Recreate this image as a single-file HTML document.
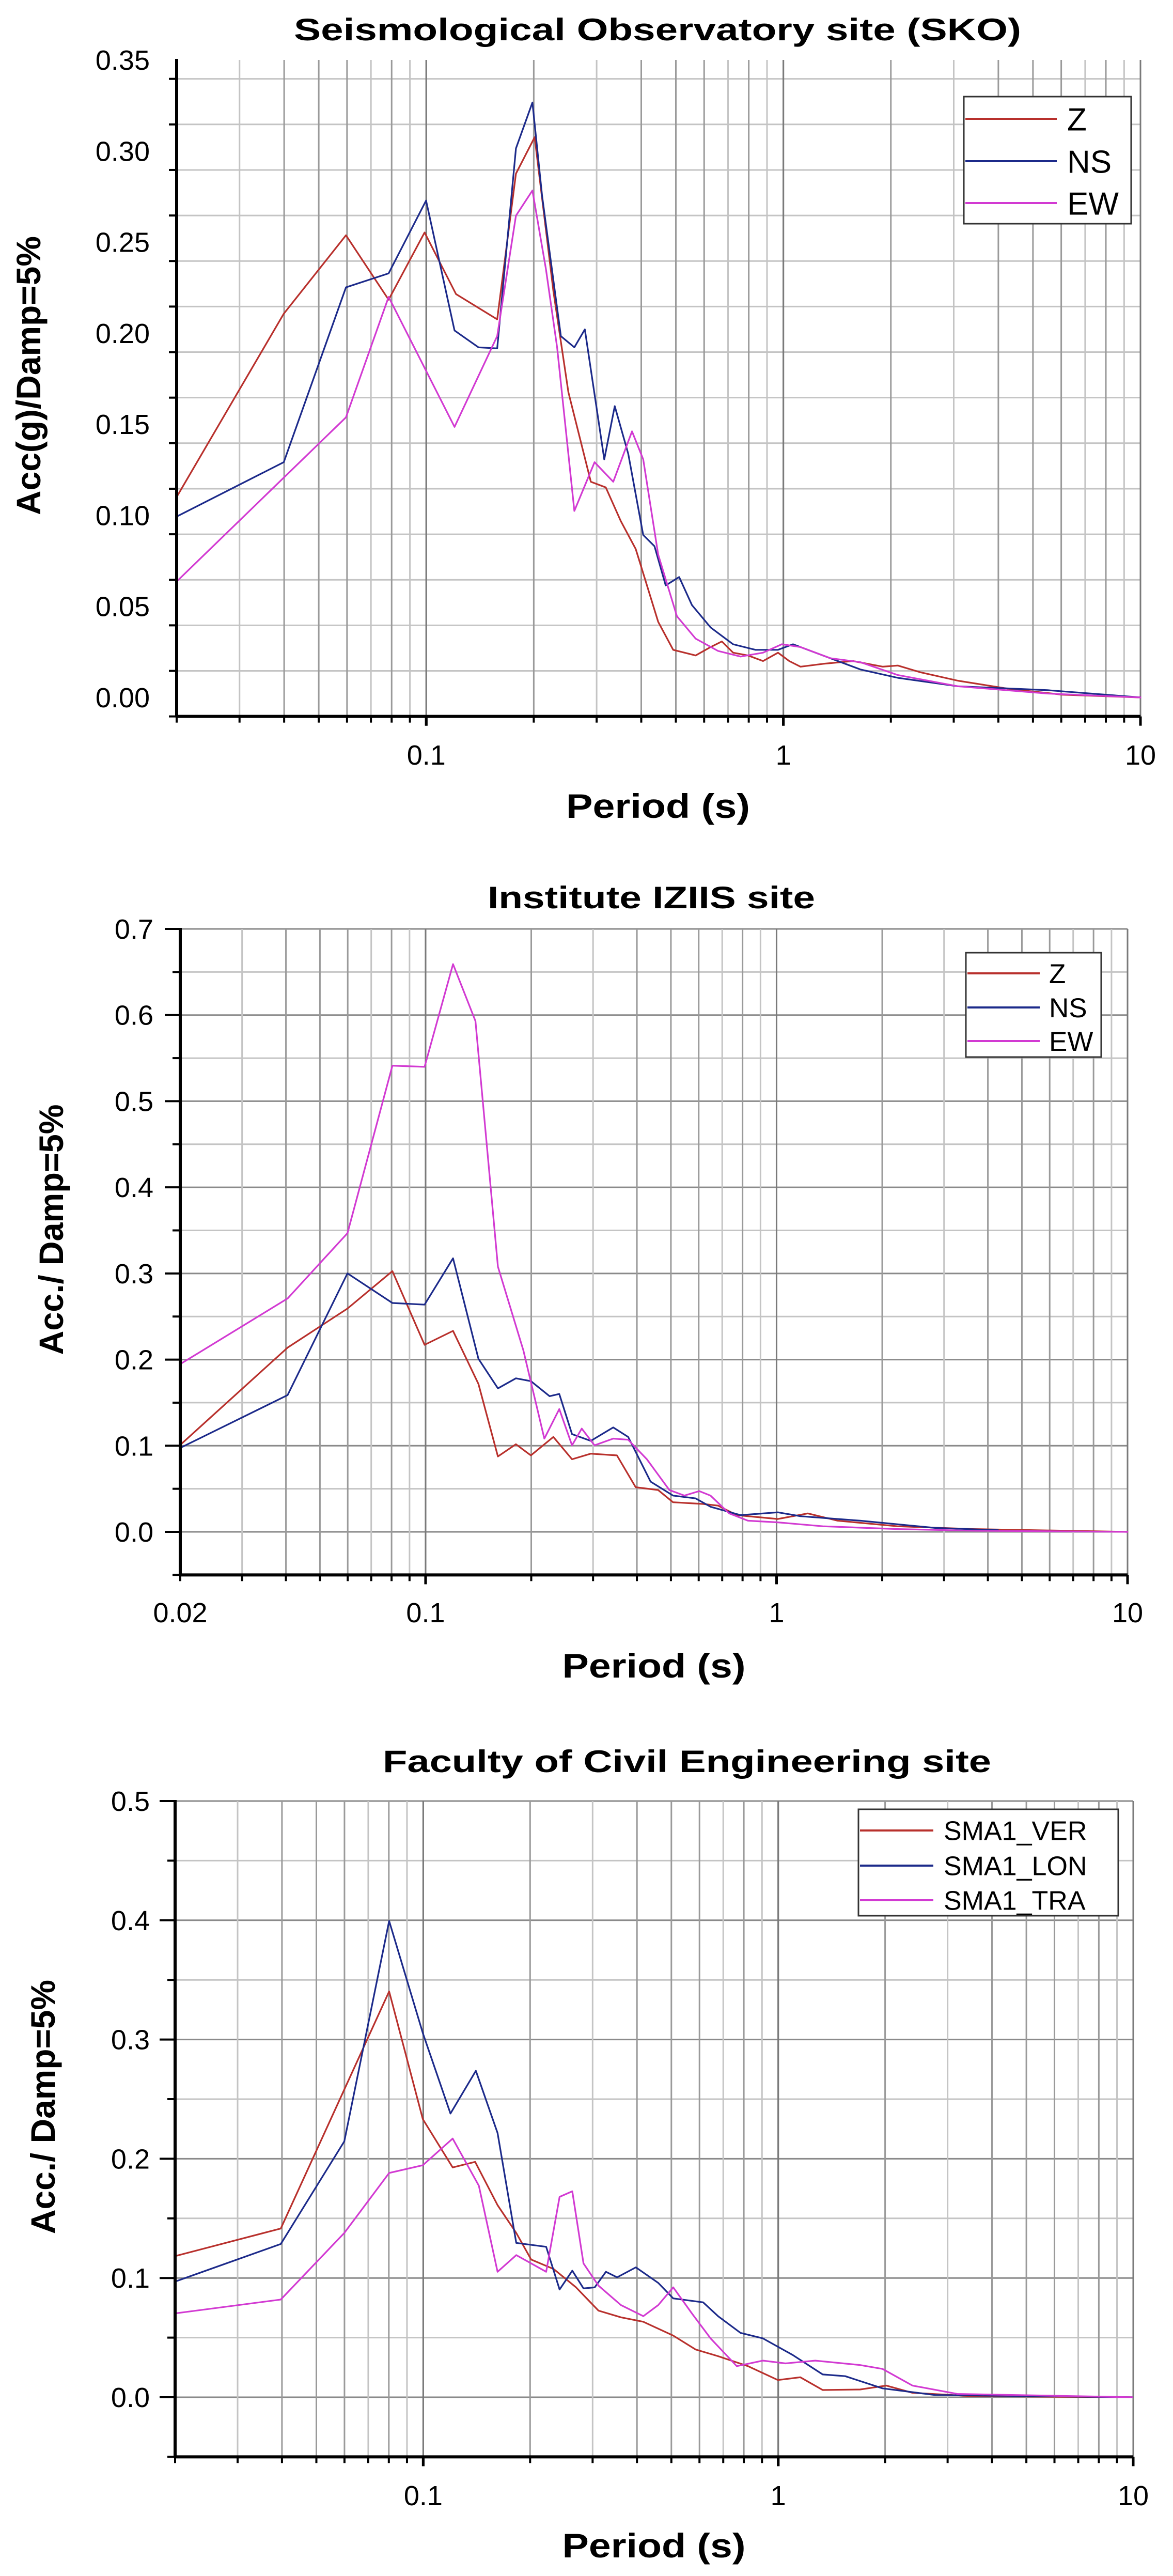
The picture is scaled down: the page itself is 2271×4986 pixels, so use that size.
<!DOCTYPE html>
<html><head><meta charset="utf-8">
<style>
html,body{margin:0;padding:0;background:#fff;}
svg{display:block;}
text{font-family:"Liberation Sans",Arial,sans-serif;}
</style></head>
<body>
<svg id="s" xmlns="http://www.w3.org/2000/svg" width="2271" height="4986" viewBox="0 0 2271 4986"></svg>
<script>
const S=document.getElementById('s');
let out='';
function L(x1,y1,x2,y2,c,w){out+=`<line x1="${x1}" y1="${y1}" x2="${x2}" y2="${y2}" stroke="${c}" stroke-width="${w}"/>`;}
function T(x,y,s,fs,anc,extra){out+=`<text x="${x}" y="${y}" font-size="${fs}" text-anchor="${anc||'start'}" ${extra||''}>${s}</text>`;}
const COL=['#b8302c','#1c2a8a','#d23ad2'];
function chart(c){
  const lx0=Math.log10(0.02), lx1=1;
  const X=v=>c.xL+(Math.log10(v)-lx0)/(lx1-lx0)*(c.xR-c.xL);
  const Y=v=>c.y0+(c.yTopPx-c.y0)*(v/c.yTopV);
  const yB=Y(c.yBotV);
  for(let v=c.yBotV; v<=c.yTopV+1e-9; v+=c.minor){
    const maj=Math.abs(Math.round(v/c.major)*c.major-v)<1e-9;
    if(v>c.yBotV+1e-9) L(c.xL,Y(v),c.xR,Y(v),maj?'#8a8a8a':'#c4c4c4',3);
    L(c.xL-(maj?30:15),Y(v),c.xL,Y(v),'#000',4);
  }
  for(let d=0.01; d<10; d*=10){
    for(let k=1;k<=10;k++){
      const v=d*k; if(v<0.0199||v>10.001) continue;
      const maj=(k==1||k==10);
      const x=X(v);
      if(x>c.xL+2) L(x,c.yTopPx,x,yB,maj?'#7a7a7a':(k%2==0||k==5?'#9a9a9a':'#c4c4c4'),3);
      L(x,yB,x,yB+(maj?18:12),'#000',maj?5:4);
    }
  }
  c.series.forEach((s,i)=>{
    const pts=s.map(p=>[c.mx(p[0]).toFixed(1),c.my(p[1]).toFixed(1)].join(',')).join(' ');
    out+=`<polyline points="${pts}" fill="none" stroke="${COL[i]}" stroke-width="3.2" stroke-linejoin="round"/>`;
  });
  L(c.xL,c.yTopPx-2,c.xL,yB+2,'#000',6);
  L(c.xL-2,yB,c.xR,yB,'#000',6);
  for(let v=0; v<=c.yTopV+1e-9; v+=c.major){
    T(c.lblR,Y(v)+19,v.toFixed(c.dec),54,'end');
  }
  c.xl.forEach(([v,s])=>T(X(v),c.xlY,s,54,'middle'));
  const g=c.leg;
  out+=`<rect x="${g.x}" y="${g.y}" width="${g.w}" height="${g.h}" fill="#fff" stroke="#333" stroke-width="3"/>`;
  g.rows.forEach((r,i)=>{
    L(g.x+3,r,g.le,r,COL[i],4);
    T(g.tx,r+g.fs*0.36,g.names[i],g.fs,'start');
  });
  T(c.tcx,c.ty,c.title,60,'middle',`font-weight="bold" textLength="${c.tw}" lengthAdjust="spacingAndGlyphs"`);
  T(c.xlcx,c.xly,'Period (s)',66,'middle',`font-weight="bold" textLength="${c.xlw}" lengthAdjust="spacingAndGlyphs"`);
  out+=`<text transform="translate(${c.ylx},${c.ylcy}) rotate(-90)" font-size="66" font-weight="bold" text-anchor="middle" textLength="${c.ylw}" lengthAdjust="spacingAndGlyphs">${c.ylab}</text>`;
}
function mk(ax1,ox1,ax2,ox2){return v=>ox1+(v-ax1)*(ox2-ox1)/(ax2-ax1);}

chart({xL:342,xR:2208,y0:1350,yTopPx:116,yTopV:0.35,yBotV:-0.0104,major:0.05,minor:0.025,dec:2,lblR:290,
 xl:[[0.1,'0.1'],[1,'1'],[10,'10']],xlY:1480,
 mx:mk(568,822,1046,1515),my:mk(107,116,1245,1350),
 series:[
 [[237,887],[380,560],[463,420],[520,535],[568,415],[610,525],[665,570],[690,310],[715,245],[740,520],[760,700],[790,860],[810,870],[830,930],[850,980],[880,1110],[900,1160],[930,1170],[950,1155],[965,1145],[980,1165],[1000,1170],[1020,1180],[1040,1165],[1055,1180],[1070,1190],[1100,1185],[1140,1180],[1180,1190],[1200,1188],[1230,1200],[1280,1215],[1350,1230],[1420,1240],[1525,1245]],
 [[237,922],[380,825],[463,513],[520,488],[570,358],[608,590],[640,620],[665,622],[690,265],[712,183],[725,350],[750,600],[768,620],[782,588],[808,820],[822,725],[840,810],[860,955],[875,975],[890,1045],[908,1030],[925,1080],[950,1120],[980,1150],[1010,1160],[1040,1160],[1060,1150],[1100,1170],[1150,1195],[1200,1210],[1280,1225],[1400,1232],[1525,1245]],
 [[237,1038],[463,745],[520,530],[608,762],[665,600],[690,385],[712,340],[730,480],[745,620],[768,912],[795,825],[820,860],[845,770],[860,820],[880,990],[905,1100],[930,1140],[960,1162],[990,1172],[1020,1165],[1045,1150],[1070,1155],[1110,1175],[1150,1182],[1200,1205],[1280,1225],[1400,1238],[1525,1245]]],
 leg:{x:1866,y:187,w:324,h:246,le:2046,tx:2066,rows:[230,312,393],fs:62,names:['Z','NS','EW']},
 title:'Seismological Observatory site (SKO)',tcx:1273,ty:78,tw:1408,
 xlcx:1274,xly:1583,xlw:356,ylab:'Acc(g)/Damp=5%',ylx:78,ylcy:727,ylw:540});

chart({xL:349,xR:2183,y0:2965,yTopPx:1798,yTopV:0.7,yBotV:-0.05,major:0.1,minor:0.05,dec:1,lblR:297,
 xl:[[0.02,'0.02'],[0.1,'0.1'],[1,'1'],[10,'10']],xlY:3140,
 mx:mk(568,822,1040,1506),my:mk(135,1798,1215,2965),
 series:[
 [[241,1060],[385,885],[465,815],[525,748],[568,880],[606,855],[640,950],[666,1080],[690,1058],[710,1078],[740,1045],[765,1085],[790,1075],[825,1078],[850,1135],[880,1140],[900,1162],[940,1165],[960,1168],[985,1185],[1040,1192],[1080,1182],[1120,1195],[1200,1205],[1300,1210],[1508,1215]],
 [[241,1065],[385,970],[465,752],[525,805],[568,808],[606,725],[640,905],[666,958],[690,940],[710,945],[735,972],[748,968],[765,1040],[790,1052],[820,1028],[840,1045],[870,1125],[900,1150],[930,1155],[950,1170],[990,1185],[1040,1180],[1070,1187],[1150,1195],[1250,1208],[1335,1212]],
 [[241,915],[385,797],[465,680],[525,380],[568,382],[606,198],[636,300],[666,740],[700,890],[728,1048],[748,995],[765,1060],[778,1030],[795,1060],[820,1048],[840,1050],[865,1085],[895,1140],[915,1150],[935,1142],[950,1150],[975,1182],[1000,1195],[1040,1198],[1100,1205],[1200,1210],[1300,1213],[1508,1215]]],
 leg:{x:1870,y:1844,w:262,h:202,le:2013,tx:2031,rows:[1884,1950,2015],fs:53,names:['Z','NS','EW']},
 title:'Institute IZIIS site',tcx:1261,ty:1758,tw:634,
 xlcx:1266,xly:3247,xlw:355,ylab:'Acc./ Damp=5%',ylx:122,ylcy:2380,ylw:485});

chart({xL:339,xR:2194,y0:4640,yTopPx:3486,yTopV:0.5,yBotV:-0.05,major:0.1,minor:0.05,dec:1,lblR:290,
 xl:[[0.1,'0.1'],[1,'1'],[10,'10']],xlY:4849,
 mx:mk(566,820,1040,1506),my:mk(172,3486,1246,4640),
 series:[
 [[233,992],[375,942],[520,515],[565,745],[605,832],[635,822],[665,900],[690,950],[710,998],[740,1015],[770,1048],[800,1090],[830,1102],[860,1110],[900,1135],[930,1160],[960,1172],[1000,1190],[1040,1215],[1070,1210],[1100,1233],[1150,1232],[1185,1225],[1220,1238],[1300,1244],[1515,1246]],
 [[233,1038],[375,970],[460,785],[520,388],[565,590],[602,735],[636,658],[665,770],[690,968],[730,975],[748,1052],[765,1018],[780,1050],[795,1048],[810,1020],[825,1030],[850,1012],[880,1040],[900,1068],[940,1075],[960,1100],[990,1130],[1020,1140],[1060,1170],[1100,1205],[1130,1208],[1180,1230],[1250,1242],[1515,1246]],
 [[233,1095],[375,1070],[460,950],[520,842],[565,828],[605,780],[640,865],[665,1020],[690,990],[730,1020],[748,885],[765,875],[780,1005],[800,1045],[830,1080],[860,1100],[880,1080],[900,1048],[925,1095],[950,1140],[985,1190],[1020,1180],[1050,1185],[1090,1180],[1150,1188],[1180,1195],[1220,1225],[1280,1240],[1515,1246]]],
 leg:{x:1662,y:3502,w:503,h:206,le:1807,tx:1827,rows:[3543,3611,3678],fs:52,names:['SMA1_VER','SMA1_LON','SMA1_TRA']},
 title:'Faculty of Civil Engineering site',tcx:1330,ty:3430,tw:1178,
 xlcx:1266,xly:4950,xlw:355,ylab:'Acc./ Damp=5%',ylx:106,ylcy:4078,ylw:492});

S.innerHTML=out;
</script>
</body></html>
